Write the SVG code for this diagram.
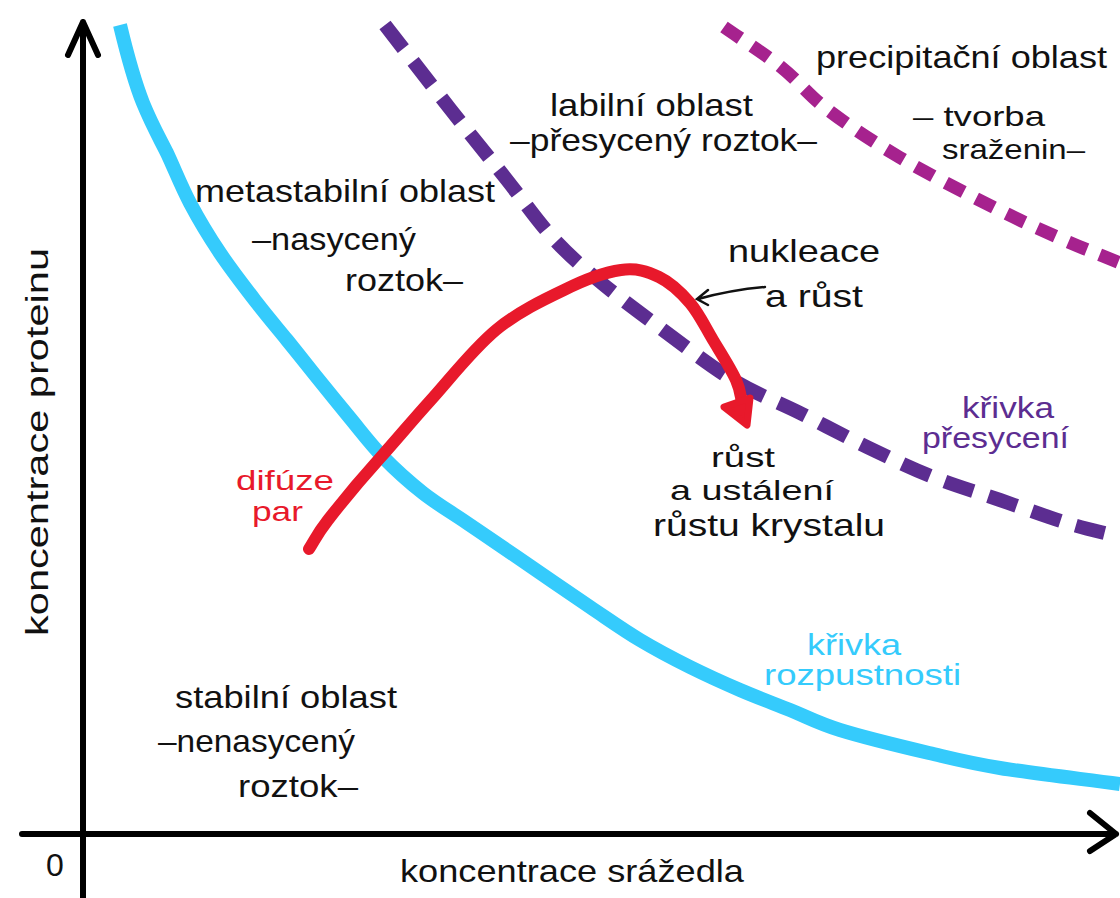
<svg xmlns="http://www.w3.org/2000/svg" width="1120" height="898" viewBox="0 0 1120 898">
<style>
text{font-family:"Liberation Sans","DejaVu Sans",sans-serif;font-size:32px;fill:#111;}
.sm{font-size:28px}
.red{fill:#E8192B;font-size:28px}
.pur{fill:#5C2D91;font-size:30px}
.blu{fill:#35CBFC;font-size:30px}
.ax{fill:none;stroke:#000;stroke-width:6;stroke-linecap:round;stroke-linejoin:round}
</style>
<rect width="1120" height="898" fill="#fff"/>
<g id="curves">
<path id="solubility" fill="none" stroke="#35CBFC" stroke-width="14" d="M120,25 C126,50 133,78 143,103 C152,125 159,137 167,153 C174.8,169.7 181.2,186.3 190,203 C198.8,219.7 208.8,236.3 220,253 C231.2,269.7 245.8,288.5 257,303 C268.2,317.5 277.3,328 287,340 C296.7,352 304.5,362 315,375 C325.5,388 338.7,404.3 350,418 C361.3,431.7 370.8,444.5 383,457 C395.2,469.5 409,482 423,493 C437,504 451.3,512.3 467,523 C482.7,533.7 496.5,543 517,557 C537.5,571 569.5,593.2 590,607 C610.5,620.8 623.3,630 640,640 C656.7,650 673.3,658.7 690,667 C706.7,675.3 723.3,682.8 740,690 C756.7,697.2 773.3,703.3 790,710 C806.7,716.7 816.8,722.8 840,730 C863.2,737.2 902.3,746.7 929,753 C955.7,759.3 968.2,762.8 1000,768 C1031.8,773.2 1080,778.7 1120,784"/>
<path id="supersaturation" fill="none" stroke="#5C2D91" stroke-width="14" stroke-dasharray="30 16" d="M385,25 C407,53.3 430.7,84.2 451,110 C471.3,135.8 490.2,158.8 507,180 C523.8,201.2 536.8,220.3 552,237 C567.2,253.7 580.2,265 598,280 C615.8,295 636.5,310.3 659,327 C681.5,343.7 709.5,365.7 733,380 C756.5,394.3 777.7,401.8 800,413 C822.3,424.2 844.8,436.3 867,447 C889.2,457.7 910.8,468.2 933,477 C955.2,485.8 977.7,492.3 1000,500 C1022.3,507.7 1047,516.8 1067,523 C1087,529.2 1102.3,532.3 1120,537"/>
<path id="precipitation" fill="none" stroke="#A6228E" stroke-width="13" stroke-dasharray="20 14" d="M724,27 C743,40.3 763.7,53.2 781,67 C798.3,80.8 808.3,95 828,110 C847.7,125 871.5,140.8 899,157 C926.5,173.2 965.5,193.2 993,207 C1020.5,220.8 1042.8,230.7 1064,240 C1085.2,249.3 1101.3,255.3 1120,263"/>
</g>
<g id="connectors">
<path id="diffusion-path" fill="none" stroke="#E8192B" stroke-width="12" stroke-linecap="round" d="M309,549 C315.3,539.3 316.2,535.2 328,520 C339.8,504.8 362,478 380,458 C398,438 411,422 430,401 C450,379 472,350 496,330 C518,312 543,300 564,290 C584.5,279.7 605.2,272.2 621,270 C636.8,267.8 647.5,271.5 659,277 C670.5,282.5 681,292.5 690,303 C699,313.5 705.3,327.2 713,340 C720.7,352.8 731,368.8 736,380 C741,391.2 740.7,398 742,402"/>
<polygon fill="#E8192B" stroke="#E8192B" stroke-width="7" stroke-linejoin="round" points="724,407 747,425 750,398"/>
<path fill="none" stroke="#111" stroke-width="2.5" stroke-linecap="round" d="M765,287 C742,289 720,293 698,299 M708,290 L697,299 L708,305"/>
</g>
<g id="axes">
<path class="ax" d="M83,22 L83,898 M68,55 L83,22 L98,55"/>
<path class="ax" d="M22,834 L1116,834 M1090,813 L1116,834 L1090,851"/>
</g>
<g id="labels">
<text x="816" y="68" textLength="291" lengthAdjust="spacingAndGlyphs">precipitační oblast</text>
<text class="sm" x="913" y="126" textLength="132" lengthAdjust="spacingAndGlyphs">– tvorba</text>
<text class="sm" x="942" y="159" textLength="143" lengthAdjust="spacingAndGlyphs">sraženin–</text>
<text x="550" y="116" textLength="203" lengthAdjust="spacingAndGlyphs">labilní oblast</text>
<text x="510" y="151" textLength="307" lengthAdjust="spacingAndGlyphs">–přesycený roztok–</text>
<text x="195" y="202" textLength="300" lengthAdjust="spacingAndGlyphs">metastabilní oblast</text>
<text x="252" y="250" textLength="164" lengthAdjust="spacingAndGlyphs">–nasycený</text>
<text x="345" y="291" textLength="118" lengthAdjust="spacingAndGlyphs">roztok–</text>
<text x="728" y="262" textLength="152" lengthAdjust="spacingAndGlyphs">nukleace</text>
<text x="765" y="307" textLength="98" lengthAdjust="spacingAndGlyphs">a růst</text>
<text class="red" x="236" y="490" textLength="98" lengthAdjust="spacingAndGlyphs">difúze</text>
<text class="red" x="252" y="521" textLength="51" lengthAdjust="spacingAndGlyphs">par</text>
<text class="sm" x="711" y="467" textLength="64" lengthAdjust="spacingAndGlyphs">růst</text>
<text class="sm" x="670" y="500" textLength="164" lengthAdjust="spacingAndGlyphs">a ustálení</text>
<text x="653" y="536" textLength="232" lengthAdjust="spacingAndGlyphs">růstu krystalu</text>
<text class="pur" x="962" y="418" textLength="92" lengthAdjust="spacingAndGlyphs">křivka</text>
<text class="pur" x="922" y="448" textLength="147" lengthAdjust="spacingAndGlyphs">přesycení</text>
<text class="blu" x="807" y="655" textLength="94" lengthAdjust="spacingAndGlyphs">křivka</text>
<text class="blu" x="764" y="685" textLength="197" lengthAdjust="spacingAndGlyphs">rozpustnosti</text>
<text x="175" y="708" textLength="222" lengthAdjust="spacingAndGlyphs">stabilní oblast</text>
<text x="158" y="752" textLength="197" lengthAdjust="spacingAndGlyphs">–nenasycený</text>
<text x="238" y="797" textLength="120" lengthAdjust="spacingAndGlyphs">roztok–</text>
<text x="46" y="876" font-size="30">0</text>
<text x="400" y="882" textLength="344" lengthAdjust="spacingAndGlyphs">koncentrace srážedla</text>
<text transform="translate(48,442) rotate(-90)" text-anchor="middle" textLength="388" lengthAdjust="spacingAndGlyphs">koncentrace proteinu</text>
</g>
</svg>
